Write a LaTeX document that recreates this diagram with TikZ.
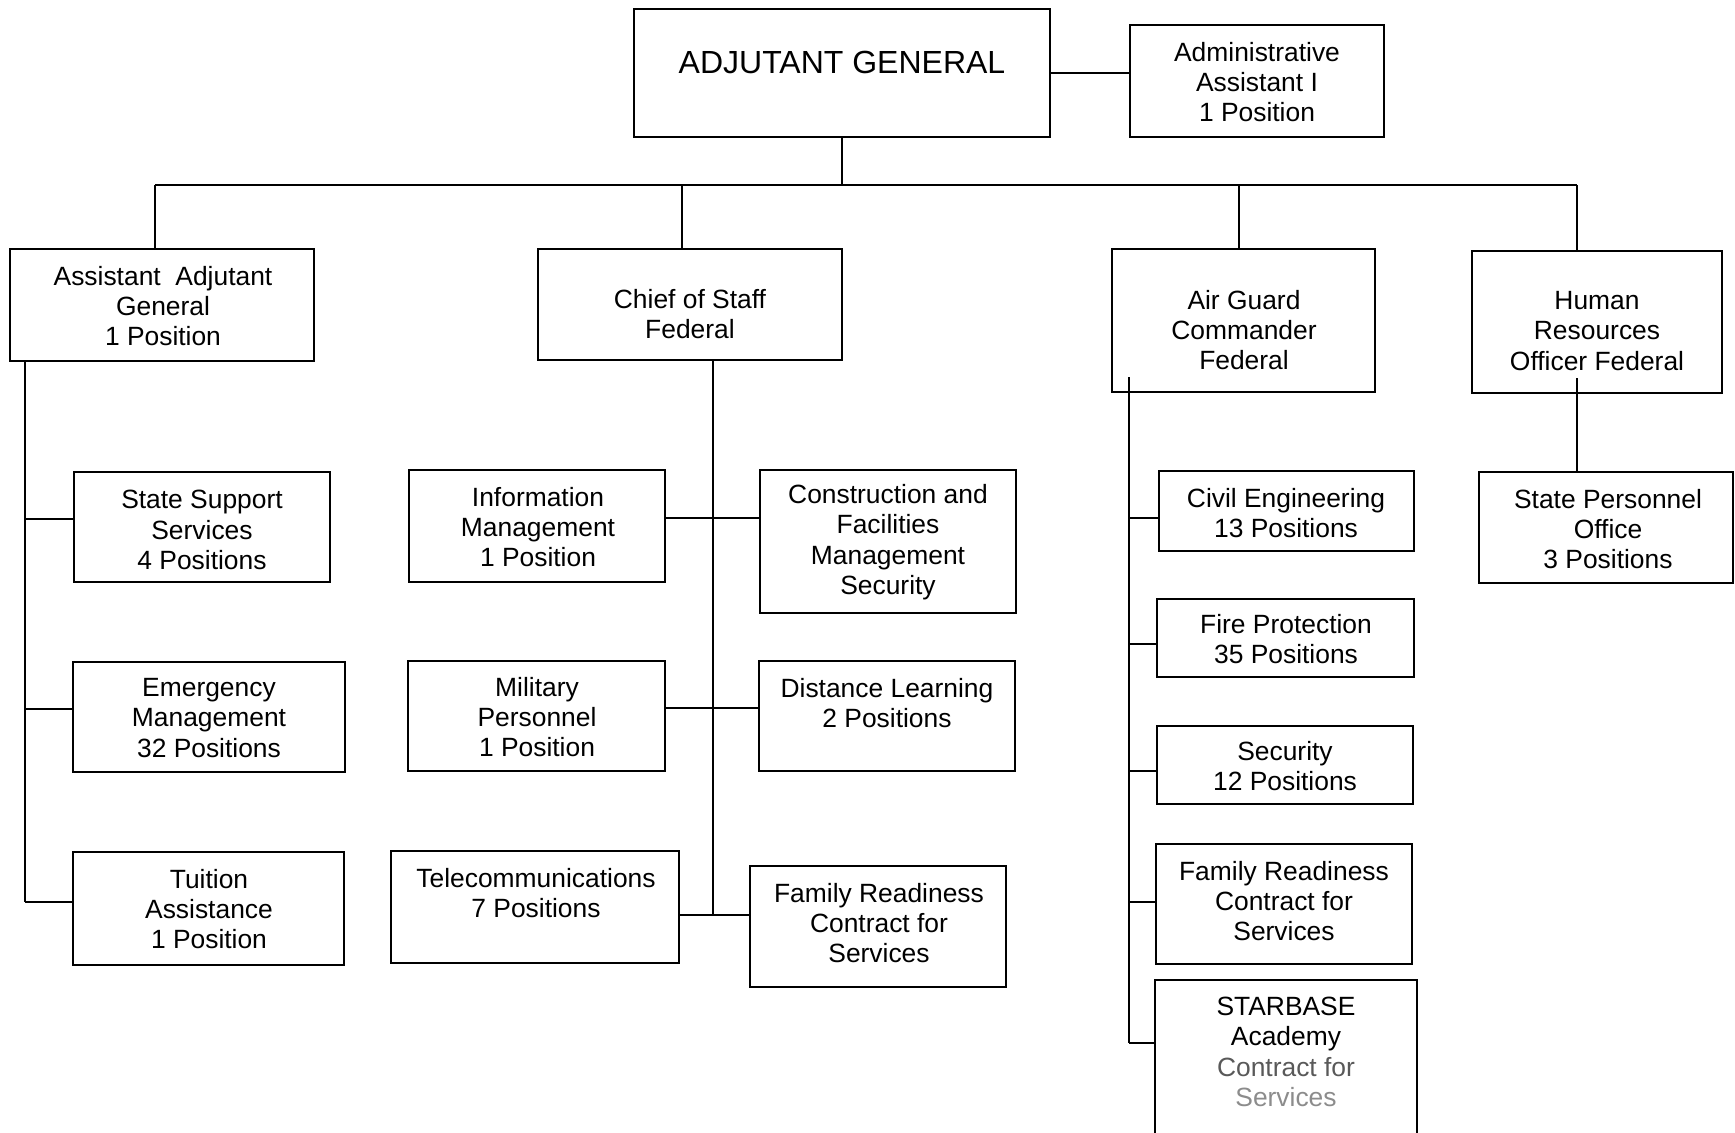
\documentclass[tikz,border=0pt]{standalone}
\usepackage{fontspec}
\setmainfont{Liberation Sans}
\usetikzlibrary{fit}

\begin{document}
\begin{tikzpicture}[x=0.5pt, y=-0.5pt,
		box/.style={draw, line width=1pt, inner sep=0pt},
		txt/.style={align=center, inner sep=0pt, font=\fontsize{13.2}{15.2}\selectfont},
		link/.style={line width=0.9pt}]
		\path[use as bounding box, clip] (0,0) rectangle (1735,1132);
		\def\bary{185}
		% boxes: name / left / top / right / bottom / text x / text y / text
		\foreach \n/\xa/\ya/\xb/\yb/\tx/\ty/\t in {
			ag/634/9/1050/137/842/62/{\fontsize{16}{19}\selectfont ADJUTANT GENERAL},
			ad/1130/25/1384/137/1257/82/{Administrative\\Assistant I\\1 Position},
			aag/10/249/314/361/163/306/{Assistant\ \ Adjutant\\General\\1 Position},
			cos/538/249/842/360/690/314/{Chief of Staff\\Federal},
			air/1112/249/1375/392/1244/330/{Air Guard\\Commander\\Federal},
			hr/1472/251/1722/393/1597/331/{Human\\Resources\\Officer Federal},
			ssa/74/472/330/582/202/530/{State Support\\Services\\4 Positions},
			em/73/662/345/772/209/718/{Emergency\\Management\\32 Positions},
			tu/73/852/344/965/209/909/{Tuition\\Assistance\\1 Position},
			im/409/470/665/582/538/527/{Information\\Management\\1 Position},
			cf/760/470/1016/613/888/542/{Construction and\\Facilities\\Management\\Security},
			mp/408/661/665/771/537/717/{Military\\Personnel\\1 Position},
			dl/759/661/1015/771/887/703/{Distance Learning\\2 Positions},
			tc/391/851/679/963/536/893/{Telecommunications\\7 Positions},
			fr1/750/866/1006/987/879/923/{Family Readiness\\Contract for\\Services},
			ce/1159/471/1414/551/1286/513/{Civil Engineering\\13 Positions},
			fp/1157/599/1414/677/1286/639/{Fire Protection\\35 Positions},
			se/1157/726/1413/804/1285/766/{Security\\12 Positions},
			fr2/1156/844/1412/964/1284/901/{Family Readiness\\Contract for\\Services},
			sb/1155/980/1417/1150/1286/1052/{STARBASE\\Academy\\{\color{black!65}Contract for}\\{\color{black!45}Services}},
			sp/1479/472/1733/583/1608/529/{State Personnel\\Office\\3 Positions}}
		{
			\node[box, fit={(\xa,\ya) (\xb,\yb)}] (\n) {};
			\node[txt] (\n-t) at (\tx,\ty) {\t};
		}
		% top level
		\draw[link] (ag) -- (ag -| ad.west);
		\coordinate (bar) at (842,\bary);
		\coordinate (bl) at (155,\bary);
		\coordinate (br) at (1577,\bary);
		\draw[link] (ag.south) -- (bar);
		\draw[link] (bl) -- (br);
		\foreach \n/\x in {aag/155, cos/682, air/1239, hr/1577}
		{
			\draw[link] (\x,\bary) -- (\n.north -| \x,0);
		}
		% assistant adjutant general
		\draw[link] (aag.south -| 25,0) -- (25,902);
		\foreach \n/\y in {ssa/519, em/709, tu/902}
		{
			\draw[link] (25,\y) -- (\n.west |- 0,\y);
		}
		% chief of staff
		\draw[link] (cos.south -| 713,0) -- (713,915);
		\foreach \a/\b/\y in {im/cf/518, mp/dl/708, tc/fr1/915}
		{
			\draw[link] (\a.east |- 0,\y) -- (\b.west |- 0,\y);
		}
		% air guard
		\draw[link] (air.south -| 1129,0) ++(0,-16) -- (1129,1043);
		\foreach \n/\y in {ce/518, fp/644, se/771, fr2/902, sb/1043}
		{
			\draw[link] (1129,\y) -- (\n.west |- 0,\y);
		}
		% human resources
		\draw[link] (hr.south -| 1577,0) ++(0,-16) -- (sp.north -| 1577,0);
	\end{tikzpicture}
\end{document}
